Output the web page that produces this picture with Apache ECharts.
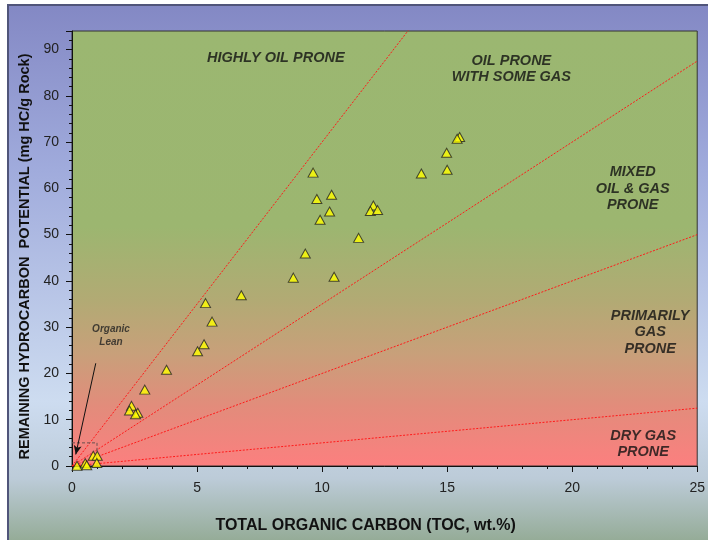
<!DOCTYPE html>
<html>
<head>
<meta charset="utf-8">
<script src="https://cdn.jsdelivr.net/npm/echarts@6/dist/echarts.min.js"></script>
<style>
  html, body { margin: 0; padding: 0; background: #ffffff; }
  #chart { width: 708px; height: 540px; }
</style>
</head>
<body>
<div id="chart"></div>
<script>
// Sample measurements: TOC (wt.%) against S2 (mg HC/g rock)
const toc = [9.64, 9.79, 10.38, 10.30, 9.92, 12.05, 11.93, 12.22, 11.46, 9.33, 8.85, 10.48,
             15.5, 15.4, 14.98, 15.0, 13.97, 6.77, 5.34, 5.6, 5.28, 5.02, 3.78, 2.91,
             2.38, 2.30, 2.63, 2.54, 0.2, 0.53, 0.59, 0.85, 1.01, 0.99];
const s2  = [63.4, 57.7, 58.6, 55.0, 53.2, 56.3, 55.1, 55.3, 49.3, 45.9, 40.7, 40.9,
             71.1, 70.7, 67.7, 64.0, 63.2, 36.9, 35.2, 31.2, 26.3, 24.8, 20.8, 16.5,
             13.0, 12.0, 11.5, 11.2, 0.06, 0.6, 0.15, 2.2, 2.2, 0.65];

// Hydrogen-index boundaries (S2 per unit TOC): 700, 350, 200, 50
const hiSlopes = [7, 3.5, 2, 0.5];

// Kerogen zone captions and their anchor points (TOC, S2)
const zoneNames = ['HIGHLY OIL PRONE', 'OIL PRONE\nWITH SOME GAS', 'MIXED\nOIL & GAS\nPRONE',
                   'PRIMARILY\nGAS\nPRONE', 'DRY GAS\nPRONE'];
const zoneX = [8.15, 17.57, 22.42, 23.12, 22.84];
const zoneY = [88.2, 85.8, 59.9, 28.95, 4.75];

// Organic-lean window and its caption
const leanBox = [[0, 5], [1, 5], [1, 0]];
const leanLabel = { text: 'Organic\nLean', x: 1.56, y: 28.2 };
const leanArrow = [[0.95, 22.2], [0.15, 2.5]];

const xTicks = { min: 0, max: 25, interval: 5 };
const yTicks = { min: 0, max: 94, interval: 10 };

const FONT = '"Liberation Sans", Arial, sans-serif';

const chart = echarts.init(document.getElementById('chart'), null, { renderer: 'canvas' });

const series = [];

hiSlopes.forEach(function (k) {
  series.push({
    type: 'line',
    data: [[0, 0], [xTicks.max, xTicks.max * k]],
    symbol: 'none',
    clip: true,
    silent: true,
    z: 3,
    lineStyle: { color: '#ff1a1a', width: 1, type: [2, 1.5] }
  });
});

series.push({
  type: 'line',
  data: leanBox,
  symbol: 'none',
  silent: true,
  z: 3,
  lineStyle: { color: '#6a5050', width: 1, type: [3, 2] },
  markLine: {
    silent: true,
    symbol: ['none', 'arrow'],
    symbolSize: [6, 9],
    label: { show: false },
    lineStyle: { color: '#111', width: 1, type: 'solid' },
    data: [[{ coord: leanArrow[0] }, { coord: leanArrow[1] }]]
  }
});

series.push({
  type: 'scatter',
  data: toc.map(function (t, i) { return [t, s2[i]]; }),
  symbol: 'triangle',
  symbolSize: [10, 9],
  z: 5,
  itemStyle: { color: '#ffff00', borderColor: '#222', borderWidth: 1 }
});

series.push({
  type: 'scatter',
  silent: true,
  symbolSize: 0,
  z: 6,
  data: zoneNames.map(function (n, i) { return { name: n, value: [zoneX[i], zoneY[i]] }; }),
  label: {
    show: true,
    position: 'inside',
    formatter: '{b}',
    fontFamily: FONT,
    fontWeight: 'bold',
    fontStyle: 'italic',
    fontSize: 14.5,
    lineHeight: 16.5,
    align: 'center',
    verticalAlign: 'middle',
    color: '#111'
  }
});

series.push({
  type: 'scatter',
  silent: true,
  symbolSize: 0,
  z: 6,
  data: [{ name: leanLabel.text, value: [leanLabel.x, leanLabel.y] }],
  label: {
    show: true,
    position: 'inside',
    formatter: '{b}',
    fontFamily: FONT,
    fontWeight: 'bold',
    fontStyle: 'italic',
    fontSize: 10,
    lineHeight: 13,
    align: 'center',
    verticalAlign: 'middle',
    color: '#222'
  }
});

chart.setOption({
  animation: false,
  backgroundColor: '#ffffff',
  graphic: {
    elements: [{
      type: 'rect',
      z: -100,
      silent: true,
      shape: { x: 8, y: 5, width: 712, height: 550 },
      style: {
        fill: new echarts.graphic.LinearGradient(0, 0, 0, 1, [
          { offset: 0, color: '#8388c4' },
          { offset: 0.3, color: '#a0abdc' },
          { offset: 0.72, color: '#cddcf0' },
          { offset: 0.86, color: '#bccbd8' },
          { offset: 1, color: '#8ba487' }
        ]),
        stroke: '#50557a',
        lineWidth: 2
      }
    }]
  },
  grid: {
    left: 72, right: 10, top: 31, bottom: 74,
    show: true,
    borderColor: '#333',
    borderWidth: 1,
    backgroundColor: new echarts.graphic.LinearGradient(0, 0, 0, 1, [
      { offset: 0, color: '#9bb771' },
      { offset: 0.45, color: '#9cb670' },
      { offset: 0.62, color: '#b2aa74' },
      { offset: 0.74, color: '#c8a07a' },
      { offset: 0.86, color: '#e28c7b' },
      { offset: 1, color: '#fc7f7f' }
    ])
  },
  xAxis: {
    type: 'value',
    min: xTicks.min, max: xTicks.max, interval: xTicks.interval,
    name: 'TOTAL ORGANIC CARBON (TOC, wt.%)',
    nameLocation: 'middle',
    nameGap: 52,
    nameTextStyle: {
      fontFamily: FONT, fontWeight: 'bold', fontSize: 16, color: '#111',
      padding: [0, 38, 0, 0]
    },
    axisLine: { show: true, onZero: false, lineStyle: { color: '#111', width: 1 } },
    axisTick: { show: true, length: 6, lineStyle: { color: '#111' } },
    minorTick: { show: true, splitNumber: 5, length: 3, lineStyle: { color: '#111' } },
    splitLine: { show: false },
    axisLabel: { fontFamily: FONT, fontSize: 14, color: '#222', margin: 15 }
  },
  yAxis: {
    type: 'value',
    min: yTicks.min, max: yTicks.max, interval: yTicks.interval,
    name: 'REMAINING HYDROCARBON  POTENTIAL (mg HC/g Rock)',
    nameLocation: 'middle',
    nameGap: 38,
    nameTextStyle: {
      fontFamily: FONT, fontWeight: 'bold', fontSize: 14.5, color: '#111',
      padding: [0, 16, 0, 0]
    },
    axisLine: { show: true, onZero: false, lineStyle: { color: '#111', width: 1 } },
    axisTick: { show: true, length: 6, lineStyle: { color: '#111' } },
    minorTick: { show: true, splitNumber: 5, length: 3, lineStyle: { color: '#111' } },
    splitLine: { show: false },
    axisLabel: {
      fontFamily: FONT, fontSize: 14, color: '#222', margin: 13,
      formatter: function (v) { return v % 10 === 0 ? String(v) : ''; }
    }
  },
  series: series
});
</script>
</body>
</html>
